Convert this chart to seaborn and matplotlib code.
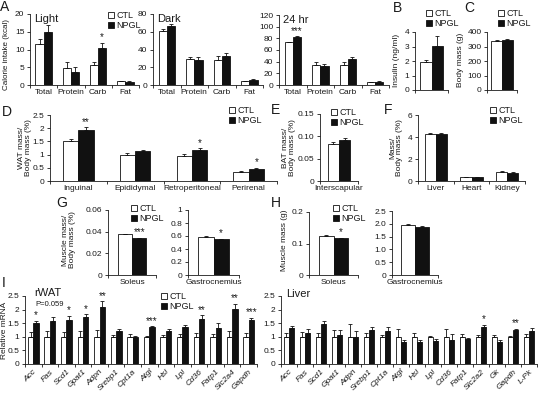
import numpy as np
import pandas as pd
import matplotlib
matplotlib.use('Agg')
import matplotlib.pyplot as plt
import seaborn as sns
from matplotlib.patches import Patch

sns.set_style('ticks')
plt.rcParams['font.family'] = ['Liberation Sans', 'DejaVu Sans']
plt.rcParams['text.color'] = '#1a1a1a'
plt.rcParams['axes.edgecolor'] = '#1a1a1a'
plt.rcParams['xtick.color'] = '#1a1a1a'
plt.rcParams['ytick.color'] = '#1a1a1a'

# ---------------- data ----------------
macro_cats = ['Total', 'Protein', 'Carb', 'Fat']
light_ctl = [11.5, 4.9, 5.6, 1.0]
light_ctl_err = [1.5, 1.5, 0.8, 0.2]
light_npgl = [15.0, 3.8, 10.3, 0.9]
light_npgl_err = [2.0, 1.2, 1.5, 0.2]
dark_ctl = [61, 29, 28, 4]
dark_ctl_err = [2, 3, 5, 0.8]
dark_npgl = [66, 28, 33, 5.5]
dark_npgl_err = [2.5, 4, 2.5, 1.0]
day_ctl = [73, 35, 35, 5]
day_ctl_err = [1.5, 4, 5, 0.8]
day_npgl = [82, 32, 44, 6]
day_npgl_err = [1.5, 4, 4, 1.0]

insulin_ctl, insulin_ctl_err = [1.95], [0.15]
insulin_npgl, insulin_npgl_err = [3.05], [0.65]
bodymass_ctl, bodymass_ctl_err = [335], [8]
bodymass_npgl, bodymass_npgl_err = [345], [5]

wat_cats = ['Inguinal', 'Epididymal', 'Retroperitoneal', 'Perirenal']
wat_ctl = [1.5, 1.0, 0.93, 0.33]
wat_ctl_err = [0.08, 0.06, 0.08, 0.03]
wat_npgl = [1.93, 1.13, 1.19, 0.47]
wat_npgl_err = [0.1, 0.05, 0.05, 0.03]

bat_cats = ['Interscapular']
bat_ctl, bat_ctl_err = [0.082], [0.005]
bat_npgl, bat_npgl_err = [0.092], [0.005]

organ_cats = ['Liver', 'Heart', 'Kidney']
organ_ctl = [4.3, 0.35, 0.85]
organ_ctl_err = [0.08, 0.05, 0.05]
organ_npgl = [4.25, 0.35, 0.77]
organ_npgl_err = [0.1, 0.05, 0.05]

sol_rel_ctl, sol_rel_ctl_err = [0.0375], [0.0006]
sol_rel_npgl, sol_rel_npgl_err = [0.034], [0.0006]
gas_rel_ctl, gas_rel_ctl_err = [0.585], [0.01]
gas_rel_npgl, gas_rel_npgl_err = [0.55], [0.01]
sol_abs_ctl, sol_abs_ctl_err = [0.125], [0.002]
sol_abs_npgl, sol_abs_npgl_err = [0.117], [0.002]
gas_abs_ctl, gas_abs_ctl_err = [1.96], [0.04]
gas_abs_npgl, gas_abs_npgl_err = [1.88], [0.02]

rwat_genes = ['Acc', 'Fas', 'Scd1', 'Gpat1', 'Adpn', 'Srebp1', 'Cpt1a', 'Atgl',
              'Hsl', 'Lpl', 'Cd36', 'Fatp1', 'Slc2a4', 'Gapdh']
rwat_ctl = [1.0] * 14
rwat_ctl_err = [0.17, 0.2, 0.17, 0.2, 0.25, 0.07, 0.1, 0.03, 0.07, 0.1, 0.13, 0.1, 0.2, 0.13]
rwat_npgl = [1.52, 1.58, 1.61, 1.72, 2.1, 1.22, 0.98, 1.35, 1.21, 1.37, 1.67, 1.32, 2.02, 1.62]
rwat_npgl_err = [0.07, 0.15, 0.15, 0.1, 0.2, 0.05, 0.05, 0.03, 0.08, 0.07, 0.12, 0.17, 0.2, 0.08]

liver_genes = ['Acc', 'Fas', 'Scd1', 'Gpat1', 'Adpn', 'Srebp1', 'Cpt1a', 'Atgl',
               'Hsl', 'Lpl', 'Cd36', 'Fatp1', 'Slc2a2', 'Gk', 'Gapdh', 'L-Pk']
liver_ctl = [1.0] * 16
liver_ctl_err = [0.13, 0.17, 0.15, 0.25, 0.47, 0.15, 0.07, 0.27, 0.13, 0.02, 0.3, 0.1, 0.06, 0.05, 0.02, 0.1]
liver_npgl = [1.33, 1.13, 1.47, 1.06, 0.98, 1.26, 1.21, 0.8, 0.8, 0.86, 0.88, 0.93, 1.37, 0.82, 1.24, 1.2]
liver_npgl_err = [0.06, 0.15, 0.12, 0.2, 0.22, 0.1, 0.16, 0.1, 0.08, 0.06, 0.22, 0.03, 0.06, 0.05, 0.04, 0.12]

# ---------------- figure ----------------
W, H = 538, 393
fig = plt.figure(figsize=(W / 100, H / 100), dpi=100)
FS = 6
PAL = {'CTL': 'white', 'NPGL': '#111111'}


def mkax(l, t, r, b):
    return fig.add_axes([l / W, 1 - b / H, (r - l) / W, (b - t) / H])


def panel(rect, cats, ctl, ctl_e, npgl, npgl_e, ylim, yticks, ylabels,
          xlabels=True, stars=None, width=0.6, italic=False, rot=0):
    ax = mkax(*rect)
    n = len(cats)
    df = pd.DataFrame({'cat': list(cats) * 2,
                       'grp': ['CTL'] * n + ['NPGL'] * n,
                       'val': list(ctl) + list(npgl)})
    sns.barplot(data=df, x='cat', y='val', hue='grp', order=list(cats),
                hue_order=['CTL', 'NPGL'], palette=PAL, edgecolor='#111111',
                linewidth=0.6, width=width, errorbar=None, legend=False, ax=ax)
    pats = sorted(ax.patches, key=lambda p: p.get_x())
    errs = []
    for a, b in zip(ctl_e, npgl_e):
        errs += [a, b]
    for p, e in zip(pats, errs):
        x = p.get_x() + p.get_width() / 2
        ax.errorbar(x, p.get_height(), yerr=[[0], [e]], fmt='none', ecolor='#111111',
                    elinewidth=0.6, capsize=1.5, capthick=0.6, zorder=3)
    ax.set_xlim(-0.5, n - 0.5)
    ax.set_ylim(*ylim)
    ax.set_yticks(yticks)
    ax.set_yticklabels(ylabels, fontsize=FS)
    ax.set_xticks(range(n))
    if xlabels:
        if rot:
            ax.set_xticklabels(cats, fontsize=FS, rotation=rot, ha='right',
                               rotation_mode='anchor', style='italic' if italic else 'normal')
        else:
            ax.set_xticklabels(cats, fontsize=FS)
    else:
        ax.set_xticklabels([''] * n)
    ax.set_xticks(np.arange(-0.5, n, 1), minor=True)
    ax.tick_params(axis='x', which='major', length=0, pad=3)
    ax.tick_params(axis='x', which='minor', length=2.5, width=0.6, direction='out')
    ax.tick_params(axis='y', length=2.5, width=0.6, pad=1.5, direction='out')
    ax.set_xlabel('')
    ax.set_ylabel('')
    sns.despine(ax=ax)
    for s in ['left', 'bottom']:
        ax.spines[s].set_linewidth(0.6)
    if stars:
        off = (ylim[1] - ylim[0]) * 0.01
        for i, txt in stars.items():
            p = pats[2 * i + 1]
            x = p.get_x() + p.get_width() / 2
            ax.text(x, p.get_height() + errs[2 * i + 1] + off, txt, ha='center',
                    va='bottom', fontsize=7)
    return ax


def legend(x, y):
    handles = [Patch(facecolor='white', edgecolor='#111111', linewidth=0.6),
               Patch(facecolor='#111111', edgecolor='#111111', linewidth=0.6)]
    fig.legend(handles, ['CTL', 'NPGL'], loc='upper left',
               bbox_to_anchor=(x / W, 1 - y / H), frameon=False, fontsize=6.5,
               handlelength=0.7, handleheight=0.7, handletextpad=0.2,
               labelspacing=0.15, borderpad=0, borderaxespad=0)


def ftext(x, y, s, **kw):
    fig.text(x / W, 1 - y / H, s, **kw)


def ylab(x, y, s, fs=FS):
    ftext(x, y, s, rotation=90, ha='center', va='center', fontsize=fs, linespacing=1.0)


def letter(x, y, s):
    ftext(x, y, s, ha='left', va='center', fontsize=10)


# ---- A ----
axL = panel((30, 14, 139, 85), macro_cats, light_ctl, light_ctl_err, light_npgl, light_npgl_err,
            (0, 20), [0, 5, 10, 15, 20], ['0', '5', '10', '15', '20'], stars={2: '*'})
axL.text(0.04, 0.93, 'Light', transform=axL.transAxes, fontsize=8, va='center')
axD = panel((153, 14, 263, 85), macro_cats, dark_ctl, dark_ctl_err, dark_npgl, dark_npgl_err,
            (0, 80), [0, 20, 40, 60, 80], ['0', '20', '40', '60', '80'])
axD.text(0.04, 0.93, 'Dark', transform=axD.transAxes, fontsize=8, va='center')
ax24 = panel((279, 15, 389, 85), macro_cats, day_ctl, day_ctl_err, day_npgl, day_npgl_err,
             (0, 120), [0, 20, 40, 60, 80, 100, 120],
             ['0', '20', '40', '60', '80', '100', '120'], stars={0: '***'})
ax24.text(0.04, 0.93, '24 hr', transform=ax24.transAxes, fontsize=8, va='center')
legend(108, 11)
ylab(7, 54, 'Calorie intake (kcal)', fs=5.8)
letter(0, 7, 'A')

# ---- B ----
panel((415, 32, 448, 90), ['Insulin'], insulin_ctl, insulin_ctl_err, insulin_npgl, insulin_npgl_err,
      (0, 4), [0, 1, 2, 3, 4], ['0', '1', '2', '3', '4'], xlabels=False, width=0.67)
legend(426, 9)
ylab(396, 60, 'Insulin (ng/ml)')
letter(393, 8, 'B')

# ---- C ----
panel((487, 32, 517, 90), ['Body'], bodymass_ctl, bodymass_ctl_err, bodymass_npgl, bodymass_npgl_err,
      (0, 400), [0, 100, 200, 300, 400], ['0', '100', '200', '300', '400'], xlabels=False, width=0.73)
legend(498, 9)
ylab(461, 60, 'Body mass (g)')
letter(464, 8, 'C')

# ---- D ----
panel((50, 115, 277, 181), wat_cats, wat_ctl, wat_ctl_err, wat_npgl, wat_npgl_err,
      (0, 2.5), [0, 0.5, 1, 1.5, 2, 2.5], ['0', '0.5', '1', '1.5', '2', '2.5'],
      stars={0: '**', 2: '*', 3: '*'}, width=0.54)
legend(229, 106)
ylab(25, 148, 'WAT mass/\nBody mass (%)')
letter(2, 112, 'D')

# ---- E ----
panel((320, 114, 358, 181), bat_cats, bat_ctl, bat_ctl_err, bat_npgl, bat_npgl_err,
      (0, 0.15), [0, 0.05, 0.10, 0.15], ['0', '0.05', '0.10', '0.15'], width=0.6)
legend(331, 108)
ylab(289, 148, 'BAT mass/\nBody mass (%)')
letter(271, 110, 'E')

# ---- F ----
panel((418, 115, 525, 181), organ_cats, organ_ctl, organ_ctl_err, organ_npgl, organ_npgl_err,
      (0, 6), [0, 2, 4, 6], ['0', '2', '4', '6'], width=0.62)
legend(490, 106)
ylab(396, 148, 'Mass/\nBody mass (%)')
letter(384, 110, 'F')

# ---- G ----
panel((108, 210, 156, 275), ['Soleus'], sol_rel_ctl, sol_rel_ctl_err, sol_rel_npgl, sol_rel_npgl_err,
      (0, 0.06), [0, 0.02, 0.04, 0.06], ['0', '0.02', '0.04', '0.06'], stars={0: '***'})
panel((188, 210, 239, 275), ['Gastrocnemius'], gas_rel_ctl, gas_rel_ctl_err, gas_rel_npgl, gas_rel_npgl_err,
      (0, 1), [0, 0.2, 0.4, 0.6, 0.8, 1], ['0', '0.2', '0.4', '0.6', '0.8', '1'], stars={0: '*'})
legend(131, 204)
ylab(69, 240, 'Muscle mass/\nBody mass (%)')
letter(56, 203, 'G')

# ---- H ----
panel((309, 212, 358, 275), ['Soleus'], sol_abs_ctl, sol_abs_ctl_err, sol_abs_npgl, sol_abs_npgl_err,
      (0, 0.2), [0, 0.1, 0.2], ['0', '0.1', '0.2'], stars={0: '*'})
panel((392, 211, 438, 275), ['Gastrocnemius'], gas_abs_ctl, gas_abs_ctl_err, gas_abs_npgl, gas_abs_npgl_err,
      (0, 2.5), [0, 0.5, 1.0, 1.5, 2.0, 2.5], ['0', '0.5', '1.0', '1.5', '2.0', '2.5'])
legend(333, 204)
ylab(285, 240, 'Muscle mass (g)')
letter(271, 203, 'H')

# ---- I ----
rel_ticks = [0, 0.5, 1, 1.5, 2, 2.5]
rel_labels = ['0', '0.5', '1', '1.5', '2', '2.5']
axR = panel((25, 296, 257, 364), rwat_genes, rwat_ctl, rwat_ctl_err, rwat_npgl, rwat_npgl_err,
            (0, 2.5), rel_ticks, rel_labels, italic=True, rot=45, width=0.65,
            stars={0: '*', 2: '*', 3: '*', 4: '**', 7: '***', 10: '**', 12: '**', 13: '***'})
axR.text(0.04, 1.04, 'rWAT', transform=axR.transAxes, fontsize=8, va='center')
axR.text(1.0, 2.2, 'P=0.059', fontsize=5.5, ha='center', va='center')
axLv = panel((281, 296, 537, 364), liver_genes, liver_ctl, liver_ctl_err, liver_npgl, liver_npgl_err,
             (0, 2.5), rel_ticks, rel_labels, italic=True, rot=45, width=0.65,
             stars={12: '*', 14: '**'})
axLv.text(0.02, 1.03, 'Liver', transform=axLv.transAxes, fontsize=8, va='center')
legend(161, 292)
ylab(5, 330, 'Relative mRNA')
letter(2, 283, 'I')

fig.savefig('out.png', dpi=100)
